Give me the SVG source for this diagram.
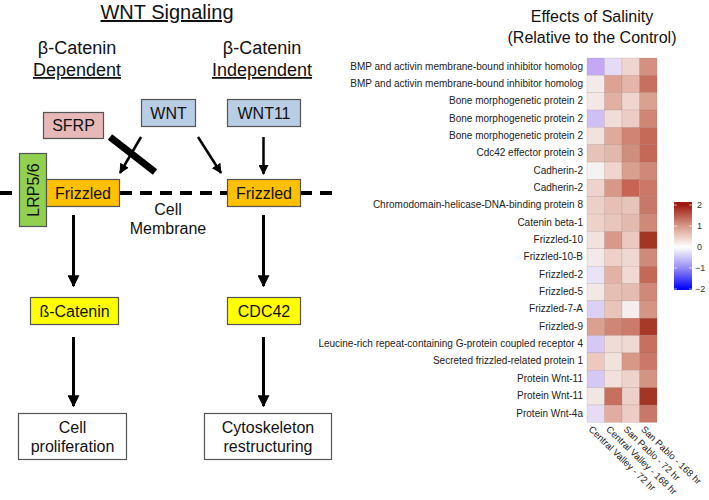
<svg xmlns="http://www.w3.org/2000/svg" width="709" height="500" viewBox="0 0 709 500">
<style>
text{font-family:"Liberation Sans",Arial,sans-serif;fill:#111}
.hd{font-size:18px}
.bx{font-size:16px;text-anchor:middle}
.box{stroke:#555;stroke-width:1.2}
.ln{stroke:#000;fill:none}
.lbl{font-size:10px;text-anchor:end;fill:#222}
.col{font-size:9.5px;fill:#222}
.tk{font-size:9px;fill:#333}
.tm{stroke:#fff;stroke-width:0.8;opacity:0.8}
</style>
<defs>
<marker id="ah" viewBox="0 0 10 10" refX="9" refY="5" markerWidth="4" markerHeight="4" orient="auto" markerUnits="strokeWidth">
<path d="M0,0 L10,5 L0,10 z" fill="#000"/>
</marker>
<linearGradient id="cb" gradientUnits="userSpaceOnUse" x1="0" y1="205" x2="0" y2="289">
<stop offset="0" stop-color="#9e1a10"/>
<stop offset="0.25" stop-color="#d79a8a"/>
<stop offset="0.5" stop-color="#ffffff"/>
<stop offset="0.75" stop-color="#978cf3"/>
<stop offset="1" stop-color="#0000ff"/>
</linearGradient>
</defs>

<!-- Titles -->
<g id="title-left">
<text x="167" y="19" style="font-size:20px" text-anchor="middle" text-decoration="underline">WNT Signaling</text>
</g>
<g id="hdr-dep">
<text class="hd" x="77" y="54" text-anchor="middle">β-Catenin</text>
<text class="hd" x="77" y="76" text-anchor="middle" text-decoration="underline">Dependent</text>
</g>
<g id="hdr-indep">
<text class="hd" x="262" y="54" text-anchor="middle">β-Catenin</text>
<text class="hd" x="262" y="76" text-anchor="middle" text-decoration="underline">Independent</text>
</g>

<!-- membrane -->
<g id="membrane">
<line x1="0" y1="193" x2="340" y2="193" stroke="#000" stroke-width="4" stroke-dasharray="12,8"/>
<text class="bx" x="168" y="215">Cell</text>
<text class="bx" x="168" y="234">Membrane</text>
</g>

<!-- connectors -->
<g id="connectors">
<line class="ln" x1="141" y1="137" x2="120" y2="173" stroke-width="2.5" marker-end="url(#ah)"/>
<line class="ln" x1="198" y1="137" x2="221" y2="173" stroke-width="2.5" marker-end="url(#ah)"/>
<line class="ln" x1="263.5" y1="137" x2="263.5" y2="174" stroke-width="2.5" marker-end="url(#ah)"/>
<line class="ln" x1="110" y1="137" x2="155" y2="172" stroke-width="7"/>
<line class="ln" x1="73.5" y1="215" x2="73.5" y2="286" stroke-width="3" marker-end="url(#ah)"/>
<line class="ln" x1="73.5" y1="337" x2="73.5" y2="406" stroke-width="3" marker-end="url(#ah)"/>
<line class="ln" x1="263.5" y1="215" x2="263.5" y2="286" stroke-width="3" marker-end="url(#ah)"/>
<line class="ln" x1="263.5" y1="337" x2="263.5" y2="406" stroke-width="3" marker-end="url(#ah)"/>
</g>

<!-- nodes -->
<g id="sfrp"><rect class="box" x="43.5" y="112.5" width="60" height="26" fill="#e6b9b8"/><text class="bx" x="73.5" y="131">SFRP</text></g>
<g id="wnt"><rect class="box" x="141.5" y="99.5" width="54" height="27" fill="#b9cde5"/><text class="bx" x="168.5" y="118.5">WNT</text></g>
<g id="wnt11"><rect class="box" x="227.5" y="99.5" width="73" height="27" fill="#b9cde5"/><text class="bx" x="264" y="118.5">WNT11</text></g>
<g id="lrp"><rect class="box" x="19.5" y="153.5" width="27" height="73" fill="#92d050"/><text class="bx" transform="translate(39 190) rotate(-90)">LRP5/6</text></g>
<g id="fz-left"><rect class="box" x="46.5" y="179.5" width="73" height="27" fill="#ffc000"/><text class="bx" x="83" y="199">Frizzled</text></g>
<g id="fz-right"><rect class="box" x="227.5" y="179.5" width="73" height="27" fill="#ffc000"/><text class="bx" x="264" y="199">Frizzled</text></g>
<g id="bcat"><rect class="box" x="30.5" y="297.5" width="88" height="27" fill="#ffff00"/><text class="bx" x="74.5" y="317">ß-Catenin</text></g>
<g id="cdc42"><rect class="box" x="227.5" y="297.5" width="73" height="27" fill="#ffff00"/><text class="bx" x="264" y="317">CDC42</text></g>
<g id="prolif"><rect class="box" x="18.5" y="413.5" width="108" height="46" fill="#fff"/><text class="bx" x="72.5" y="433">Cell</text><text class="bx" x="72.5" y="452">proliferation</text></g>
<g id="cyto"><rect class="box" x="204.5" y="413.5" width="127" height="46" fill="#fff"/><text class="bx" x="268" y="433">Cytoskeleton</text><text class="bx" x="268" y="452">restructuring</text></g>

<!-- Heatmap -->
<g id="heatmap-title">
<text x="592" y="22" text-anchor="middle" style="font-size:16px">Effects of Salinity</text>
<text x="592" y="43" text-anchor="middle" style="font-size:16px">(Relative to the Control)</text>
</g>

<g id="heatmap-labels">
<text class="lbl" x="583" y="69.5">BMP and activin membrane-bound inhibitor homolog</text>
<text class="lbl" x="583" y="86.8">BMP and activin membrane-bound inhibitor homolog</text>
<text class="lbl" x="583" y="104.2">Bone morphogenetic protein 2</text>
<text class="lbl" x="583" y="121.5">Bone morphogenetic protein 2</text>
<text class="lbl" x="583" y="138.9">Bone morphogenetic protein 2</text>
<text class="lbl" x="583" y="156.2">Cdc42 effector protein 3</text>
<text class="lbl" x="583" y="173.6">Cadherin-2</text>
<text class="lbl" x="583" y="190.9">Cadherin-2</text>
<text class="lbl" x="583" y="208.3">Chromodomain-helicase-DNA-binding protein 8</text>
<text class="lbl" x="583" y="225.6">Catenin beta-1</text>
<text class="lbl" x="583" y="243.0">Frizzled-10</text>
<text class="lbl" x="583" y="260.3">Frizzled-10-B</text>
<text class="lbl" x="583" y="277.7">Frizzled-2</text>
<text class="lbl" x="583" y="295.0">Frizzled-5</text>
<text class="lbl" x="583" y="312.4">Frizzled-7-A</text>
<text class="lbl" x="583" y="329.7">Frizzled-9</text>
<text class="lbl" x="583" y="347.1">Leucine-rich repeat-containing G-protein coupled receptor 4</text>
<text class="lbl" x="583" y="364.4">Secreted frizzled-related protein 1</text>
<text class="lbl" x="583" y="381.8">Protein Wnt-11</text>
<text class="lbl" x="583" y="399.1">Protein Wnt-11</text>
<text class="lbl" x="583" y="416.5">Protein Wnt-4a</text>
</g>

<g id="heatmap-cells" stroke="#8a6a66" stroke-width="0.3" stroke-opacity="0.5">
<rect x="587" y="58.0" width="17.5" height="17.4" fill="#c2a8f5"/><rect x="604.5" y="58.0" width="17.5" height="17.4" fill="#e4dcf7"/><rect x="622" y="58.0" width="17.5" height="17.4" fill="#efd5cf"/><rect x="639.5" y="58.0" width="17.5" height="17.4" fill="#d49080"/>
<rect x="587" y="75.3" width="17.5" height="17.4" fill="#f3ebea"/><rect x="604.5" y="75.3" width="17.5" height="17.4" fill="#dda294"/><rect x="622" y="75.3" width="17.5" height="17.4" fill="#e5b5aa"/><rect x="639.5" y="75.3" width="17.5" height="17.4" fill="#c87060"/>
<rect x="587" y="92.7" width="17.5" height="17.4" fill="#f3e8e6"/><rect x="604.5" y="92.7" width="17.5" height="17.4" fill="#e0b0a3"/><rect x="622" y="92.7" width="17.5" height="17.4" fill="#efd5ce"/><rect x="639.5" y="92.7" width="17.5" height="17.4" fill="#daa090"/>
<rect x="587" y="110.0" width="17.5" height="17.4" fill="#cfbff5"/><rect x="604.5" y="110.0" width="17.5" height="17.4" fill="#f0ddd8"/><rect x="622" y="110.0" width="17.5" height="17.4" fill="#ecccc4"/><rect x="639.5" y="110.0" width="17.5" height="17.4" fill="#d08575"/>
<rect x="587" y="127.4" width="17.5" height="17.4" fill="#f2e2de"/><rect x="604.5" y="127.4" width="17.5" height="17.4" fill="#dfaa9c"/><rect x="622" y="127.4" width="17.5" height="17.4" fill="#cf8474"/><rect x="639.5" y="127.4" width="17.5" height="17.4" fill="#c56a58"/>
<rect x="587" y="144.7" width="17.5" height="17.4" fill="#e6c2b8"/><rect x="604.5" y="144.7" width="17.5" height="17.4" fill="#e3b8ac"/><rect x="622" y="144.7" width="17.5" height="17.4" fill="#d08e7e"/><rect x="639.5" y="144.7" width="17.5" height="17.4" fill="#c56858"/>
<rect x="587" y="162.1" width="17.5" height="17.4" fill="#f5f2f2"/><rect x="604.5" y="162.1" width="17.5" height="17.4" fill="#efd5ce"/><rect x="622" y="162.1" width="17.5" height="17.4" fill="#d9a090"/><rect x="639.5" y="162.1" width="17.5" height="17.4" fill="#d08878"/>
<rect x="587" y="179.4" width="17.5" height="17.4" fill="#eed2cb"/><rect x="604.5" y="179.4" width="17.5" height="17.4" fill="#d89888"/><rect x="622" y="179.4" width="17.5" height="17.4" fill="#c86454"/><rect x="639.5" y="179.4" width="17.5" height="17.4" fill="#cc7868"/>
<rect x="587" y="196.8" width="17.5" height="17.4" fill="#ecd0c8"/><rect x="604.5" y="196.8" width="17.5" height="17.4" fill="#e6c0b5"/><rect x="622" y="196.8" width="17.5" height="17.4" fill="#e6c4ba"/><rect x="639.5" y="196.8" width="17.5" height="17.4" fill="#c87868"/>
<rect x="587" y="214.1" width="17.5" height="17.4" fill="#eed2ca"/><rect x="604.5" y="214.1" width="17.5" height="17.4" fill="#e8c6bc"/><rect x="622" y="214.1" width="17.5" height="17.4" fill="#e3baae"/><rect x="639.5" y="214.1" width="17.5" height="17.4" fill="#d08878"/>
<rect x="587" y="231.5" width="17.5" height="17.4" fill="#f1e2df"/><rect x="604.5" y="231.5" width="17.5" height="17.4" fill="#d8988a"/><rect x="622" y="231.5" width="17.5" height="17.4" fill="#ebc9c0"/><rect x="639.5" y="231.5" width="17.5" height="17.4" fill="#a33525"/>
<rect x="587" y="248.8" width="17.5" height="17.4" fill="#f2e9e8"/><rect x="604.5" y="248.8" width="17.5" height="17.4" fill="#eed0c8"/><rect x="622" y="248.8" width="17.5" height="17.4" fill="#efd8d2"/><rect x="639.5" y="248.8" width="17.5" height="17.4" fill="#d08a7a"/>
<rect x="587" y="266.2" width="17.5" height="17.4" fill="#e8e4f5"/><rect x="604.5" y="266.2" width="17.5" height="17.4" fill="#e2b2a6"/><rect x="622" y="266.2" width="17.5" height="17.4" fill="#f0d9d3"/><rect x="639.5" y="266.2" width="17.5" height="17.4" fill="#c46858"/>
<rect x="587" y="283.5" width="17.5" height="17.4" fill="#f2e8e6"/><rect x="604.5" y="283.5" width="17.5" height="17.4" fill="#e6bfb4"/><rect x="622" y="283.5" width="17.5" height="17.4" fill="#e5bcb1"/><rect x="639.5" y="283.5" width="17.5" height="17.4" fill="#d08878"/>
<rect x="587" y="300.9" width="17.5" height="17.4" fill="#dcd0f5"/><rect x="604.5" y="300.9" width="17.5" height="17.4" fill="#e9c4ba"/><rect x="622" y="300.9" width="17.5" height="17.4" fill="#f4eeee"/><rect x="639.5" y="300.9" width="17.5" height="17.4" fill="#d59585"/>
<rect x="587" y="318.2" width="17.5" height="17.4" fill="#dca090"/><rect x="604.5" y="318.2" width="17.5" height="17.4" fill="#d08676"/><rect x="622" y="318.2" width="17.5" height="17.4" fill="#cc7a6a"/><rect x="639.5" y="318.2" width="17.5" height="17.4" fill="#a83828"/>
<rect x="587" y="335.6" width="17.5" height="17.4" fill="#d6c8f5"/><rect x="604.5" y="335.6" width="17.5" height="17.4" fill="#f0dcd6"/><rect x="622" y="335.6" width="17.5" height="17.4" fill="#efd9d3"/><rect x="639.5" y="335.6" width="17.5" height="17.4" fill="#c8705f"/>
<rect x="587" y="352.9" width="17.5" height="17.4" fill="#ecc8bf"/><rect x="604.5" y="352.9" width="17.5" height="17.4" fill="#f2e2de"/><rect x="622" y="352.9" width="17.5" height="17.4" fill="#d89888"/><rect x="639.5" y="352.9" width="17.5" height="17.4" fill="#cc7868"/>
<rect x="587" y="370.3" width="17.5" height="17.4" fill="#d6c8f5"/><rect x="604.5" y="370.3" width="17.5" height="17.4" fill="#f1e0dc"/><rect x="622" y="370.3" width="17.5" height="17.4" fill="#edd3cc"/><rect x="639.5" y="370.3" width="17.5" height="17.4" fill="#d49483"/>
<rect x="587" y="387.6" width="17.5" height="17.4" fill="#f2e6e4"/><rect x="604.5" y="387.6" width="17.5" height="17.4" fill="#c87060"/><rect x="622" y="387.6" width="17.5" height="17.4" fill="#edd0c9"/><rect x="639.5" y="387.6" width="17.5" height="17.4" fill="#a33525"/>
<rect x="587" y="405.0" width="17.5" height="17.4" fill="#e6ddf5"/><rect x="604.5" y="405.0" width="17.5" height="17.4" fill="#e0ada0"/><rect x="622" y="405.0" width="17.5" height="17.4" fill="#ecccc4"/><rect x="639.5" y="405.0" width="17.5" height="17.4" fill="#c87868"/>
</g>

<g id="col-labels">
<text class="col" transform="translate(588 430) rotate(44)">Central Valley - 72 hr</text>
<text class="col" transform="translate(605.5 430) rotate(44)">Central Valley - 168 hr</text>
<text class="col" transform="translate(623 430) rotate(44)">San Pablo - 72 hr</text>
<text class="col" transform="translate(640.5 430) rotate(44)">San Pablo - 168 hr</text>
</g>

<g id="legend">
<rect x="674" y="202" width="18" height="88" fill="url(#cb)"/>
<line class="tm" x1="674" y1="205" x2="677" y2="205"/><line class="tm" x1="689" y1="205" x2="692" y2="205"/>
<line class="tm" x1="674" y1="226" x2="677" y2="226"/><line class="tm" x1="689" y1="226" x2="692" y2="226"/>
<line class="tm" x1="674" y1="247" x2="677" y2="247"/><line class="tm" x1="689" y1="247" x2="692" y2="247"/>
<line class="tm" x1="674" y1="268" x2="677" y2="268"/><line class="tm" x1="689" y1="268" x2="692" y2="268"/>
<line class="tm" x1="674" y1="289" x2="677" y2="289"/><line class="tm" x1="689" y1="289" x2="692" y2="289"/>
<text class="tk" x="697" y="208">2</text>
<text class="tk" x="697" y="229">1</text>
<text class="tk" x="697" y="250">0</text>
<text class="tk" x="695" y="271">−1</text>
<text class="tk" x="695" y="292">−2</text>
</g>
</svg>
